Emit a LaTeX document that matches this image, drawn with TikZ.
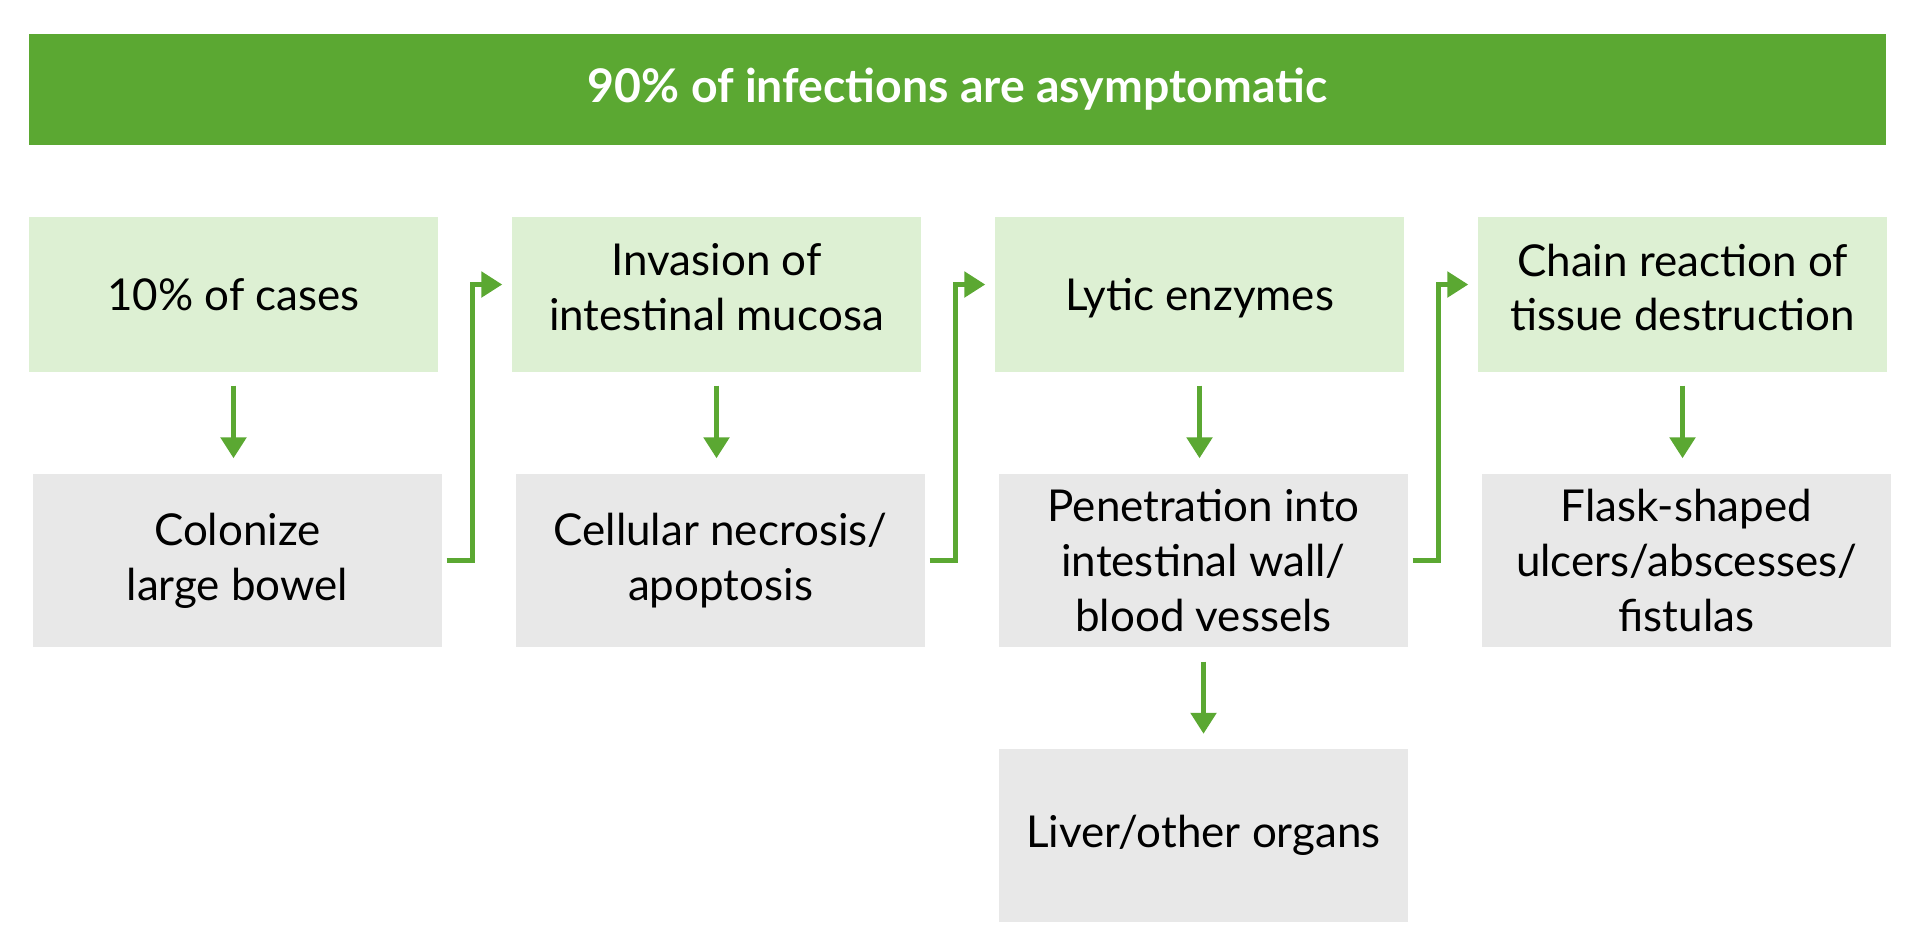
\documentclass[tikz,border=0pt]{standalone}
\usepackage{fontspec}
\setmainfont{Lato}
\usepackage{xcolor}
\usetikzlibrary{positioning, arrows.meta, calc}
\definecolor{topgreen}{HTML}{5BA832}
\definecolor{lightgreen}{HTML}{DDF0D3}
\definecolor{boxgray}{HTML}{E8E8E8}
\newcommand{\bodyfont}{\fontsize{12.5}{15.6}\selectfont}

\begin{document}
\begin{tikzpicture}[
    greenbox/.style={fill=lightgreen, minimum width=4.09cm, minimum height=1.55cm, inner sep=0pt},
    graybox/.style={fill=boxgray, minimum width=4.09cm, minimum height=1.73cm, align=center, inner sep=0pt, font=\bodyfont},
    boxtext/.style={align=center, inner sep=0pt, font=\bodyfont},
    arr/.style={draw=topgreen, line width=1.5pt, -{Triangle[width=0.25cm, length=0.21cm]}}
]
    \useasboundingbox (0,0) rectangle (19.2,-9.4);

    % Header bar
    \node[fill=topgreen, minimum width=18.57cm, minimum height=1.11cm, inner sep=0pt,
          text=white, font=\fontsize{13.2}{15}\selectfont\bfseries] (head) at (9.575,-0.895)
          {90\% of infections are asymptomatic};

    % Upper row
    \foreach \i/\dy/\txt in {1/0/{10\% of cases},
                             2/0.07/{Invasion of\\intestinal mucosa},
                             3/-0.04/{Lytic enzymes},
                             4/0.07/{Chain reaction of\\tissue destruction}} {
        \node[greenbox] (g\i) at ({2.335+4.83*(\i-1)}, -2.945) {};
        \node[boxtext] (t\i) at ($(g\i.center)+(0,\dy)$) {\txt};
    }

    % Lower row
    \foreach \i/\txt in {1/{Colonize\\large bowel},
                         2/{Cellular necrosis/\\apoptosis},
                         3/{Penetration into\\intestinal wall/\\blood vessels},
                         4/{Flask-shaped\\ulcers/abscesses/\\fistulas}} {
        \node[graybox] (c\i) at ({2.375+4.83*(\i-1)}, -5.605) {\txt};
    }

    \node[graybox] (liver) at (12.035,-8.35) {Liver/other organs};

    % Down arrows
    \foreach \i in {1,...,4} {
        \draw[arr] ($(g\i.south)+(0,-0.13)$) -- ($(g\i.south |- c\i.north)+(0,0.15)$);
    }
    \draw[arr] ($(c3.south)+(0,-0.14)$) -- ($(liver.north)+(0,0.14)$);

    % Elbow arrows
    \foreach \i/\j in {1/2, 2/3, 3/4} {
        \draw[arr] ($(c\i.east)+(0.04,0)$) -- ++(0.26,0) |- ($(g\j.west)+(-0.09,0.1)$);
    }
\end{tikzpicture}
\end{document}
